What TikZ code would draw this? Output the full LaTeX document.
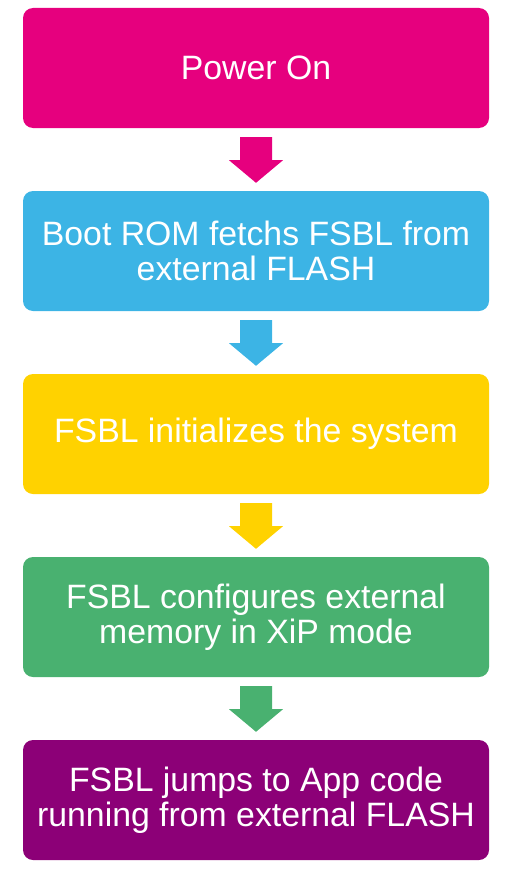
\documentclass[tikz,border=0pt]{standalone}
\usepackage{fontspec}
\setmainfont{Liberation Sans}
\usetikzlibrary{calc}
\definecolor{cmag}{HTML}{E6007E}
\definecolor{cblue}{HTML}{3CB4E5}
\definecolor{cyel}{HTML}{FFD200}
\definecolor{cgreen}{HTML}{49B170}
\definecolor{cpurp}{HTML}{8C0077}
\tikzset{
  stepbox/.style={draw=none, rounded corners=10pt, minimum width=466pt, minimum height=120pt,
    inner sep=0pt, text=white, align=center, font=\fontsize{33.8}{35}\selectfont},
}
\newcommand{\blockarrow}[3]{%
  \fill[#3] ($(#1.south)+(-16,9)$) -- ($(#1.south)+(16,9)$) -- ($(#1.south)+(16,32)$)
    -- ($(#1.south)+(27,32)$) -- ($(#2.north)+(0,-8)$) -- ($(#1.south)+(-27,32)$)
    -- ($(#1.south)+(-16,32)$) -- cycle;}
\begin{document}
\begin{tikzpicture}[x=1pt,y=-1pt]
\useasboundingbox (0,0) rectangle (510,875);
\node[stepbox, fill=cmag] (a) at (256,68) {Power On};
\node[stepbox, fill=cblue] (b) at (256,251) {Boot ROM fetchs FSBL from\\external FLASH};
\node[stepbox, fill=cyel] (c) at (256,434) {FSBL initializes the system};
\node[stepbox, fill=cgreen] (d) at (256,617) {FSBL configures external\\memory in XiP mode};
\node[stepbox, fill=cpurp] (e) at (256,800) {FSBL jumps to App code\\running from external FLASH};
\blockarrow{a}{b}{cmag}
\blockarrow{b}{c}{cblue}
\blockarrow{c}{d}{cyel}
\blockarrow{d}{e}{cgreen}
\end{tikzpicture}
\end{document}
